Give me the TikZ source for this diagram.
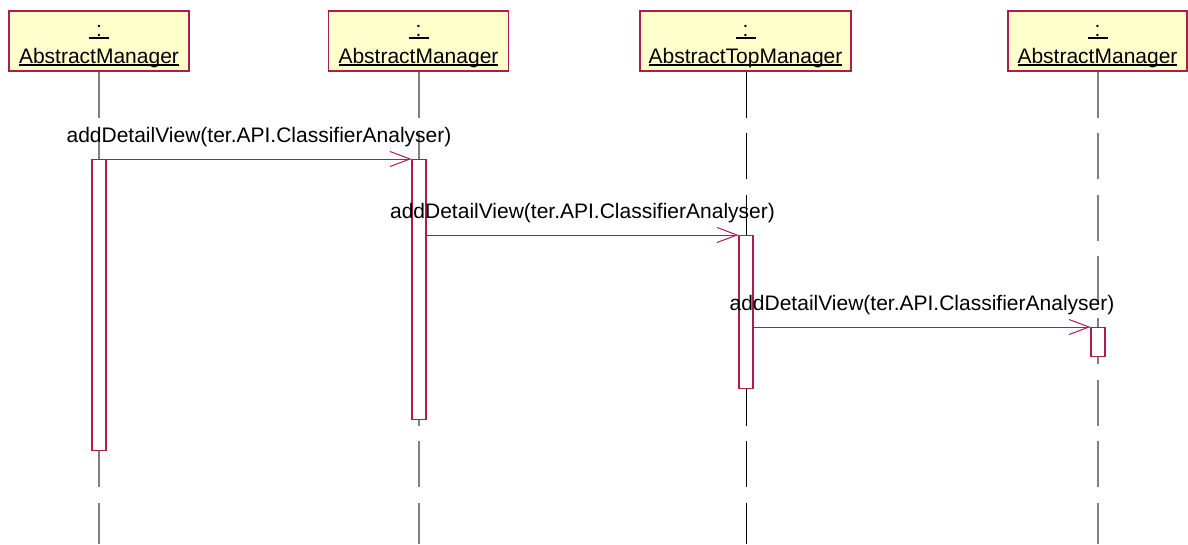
\documentclass[tikz,border=0pt]{standalone}
\usepackage{fontspec}
\setmainfont{Liberation Sans}
\usetikzlibrary{arrows.meta,calc}
\definecolor{umlred}{RGB}{172,28,78}
\definecolor{umlfill}{RGB}{255,255,204}
\definecolor{lifegray}{RGB}{128,128,128}
% underline that sits just below the baseline and crosses descenders
\newcommand\uln[1]{\sbox0{#1}\rlap{\rule[-1.9pt]{\wd0}{1.2pt}}\usebox0}
\tikzset{
  objbox/.style={draw=umlred, line width=1.3pt, fill=umlfill, minimum height=60pt, inner sep=0pt},
  objtext/.style={anchor=base, inner sep=0pt, font=\fontsize{21}{25}\selectfont},
  lifeline/.style={draw=lifegray, line width=1.3pt, dash pattern=on 46pt off 15.6pt},
  actbox/.style={draw=umlred, line width=1.1pt, fill=white, minimum width=14pt, inner sep=0pt, anchor=north},
  msg/.style={draw=umlred, line width=1pt, -{Straight Barb[length=20pt,width=15pt,line width=1pt]}},
  msgtext/.style={anchor=base, inner sep=0pt, font=\fontsize{21}{25}\selectfont}
}
\begin{document}
\begin{tikzpicture}[x=1pt,y=1pt]
\useasboundingbox (0,0) rectangle (1188,-544);
\fill[white] (0,0) rectangle (1188,-544);

% object heads
\node[objbox, minimum width=180pt] (o1) at (99,-41) {};
\node[objbox, minimum width=180pt] (o2) at (418.5,-41) {};
\node[objbox, minimum width=211pt] (o3) at (745.5,-41) {};
\node[objbox, minimum width=179pt] (o4) at (1097.5,-41) {};

\foreach \o/\name in {o1/AbstractManager, o2/AbstractManager, o3/AbstractTopManager, o4/AbstractManager}{
  \node[objtext] (\o c) at ($(\o.south)+(0,35)$) {\uln{\makebox[20pt]{:}}};
  \node[objtext] (\o n) at ($(\o.south)+(0,8)$) {\uln{\name}};
}

% lifeline ends
\coordinate (e1) at (99,-544);
\coordinate (e2) at (419,-544);
\coordinate (e3) at (746,-544);
\coordinate (e4) at (1098,-544);

% lifelines
\draw[lifeline] (o1.south -| e1) -- (e1);
\draw[lifeline] (o2.south -| e2) -- (e2);
\draw[lifeline, draw=black, line width=1pt] (o3.south -| e3) -- (e3);
\draw[lifeline] (o4.south -| e4) -- (e4);

% activations
\node[actbox, minimum height=291pt] (a1) at (99,-159) {};
\node[actbox, minimum height=260pt] (a2) at (419,-159) {};
\node[actbox, minimum height=153pt] (a3) at (746,-235) {};
\node[actbox, minimum height=29pt] (a4) at (1098,-327) {};

% messages
\draw[msg] (a1.east |- a2.north) -- (a2.north west)
  node[msgtext, midway, yshift=17pt] (m1) {addDetailView(ter.API.ClassifierAnalyser)};
\draw[msg] (a2.east |- a3.north) -- (a3.north west)
  node[msgtext, midway, yshift=17pt] (m2) {addDetailView(ter.API.ClassifierAnalyser)};
\draw[msg] (a3.east |- a4.north) -- (a4.north west)
  node[msgtext, midway, yshift=17pt] (m3) {addDetailView(ter.API.ClassifierAnalyser)};
\end{tikzpicture}
\end{document}
